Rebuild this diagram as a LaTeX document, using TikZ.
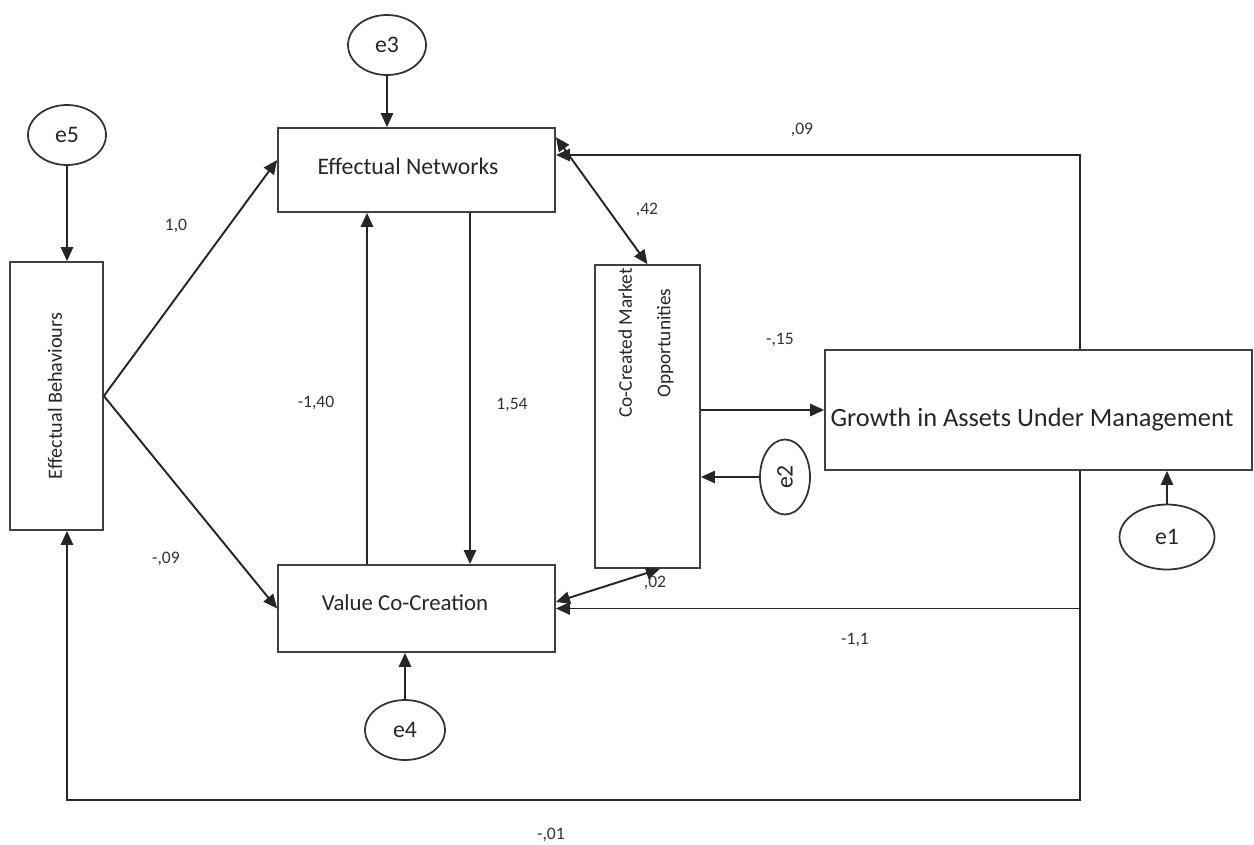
\documentclass[tikz,border=0pt]{standalone}
\usepackage{fontspec}
\setmainfont{Carlito}
\usetikzlibrary{arrows.meta,shapes.geometric,calc}
\begin{document}
\begin{tikzpicture}[x=0.02cm,y=-0.02cm,
  box/.style={draw=black!75,line width=1pt,rectangle,inner sep=0pt},
  ell/.style={draw=black!80,line width=1pt,ellipse,inner sep=0pt},
  txt/.style={font=\fontsize{13.5}{16}\selectfont,text=black!85,inner sep=0pt},
  rtxt/.style={font=\fontsize{11.5}{22}\selectfont,text=black!85,inner sep=0pt,rotate=90},
  lbl/.style={font=\fontsize{10}{12}\selectfont,text=black!80,inner sep=0pt},
  arr/.style={-{Triangle[length=8pt,width=7pt]},line width=1.1pt,draw=black!85},
  dbl/.style={{Triangle[length=8pt,width=7pt]}-{Triangle[length=8pt,width=7pt]},line width=1.1pt,draw=black!85}]
\useasboundingbox (0,0) rectangle (1254,845);

% construct boxes
\node[box,minimum width=5.54cm,minimum height=1.68cm] (nw) at (416.5,170) {};
\node[txt] (nwt) at (408,166) {Effectual Networks};
\node[box,minimum width=5.54cm,minimum height=1.74cm] (vc) at (416.5,608.5) {};
\node[txt,font=\fontsize{13}{16}\selectfont] (vct) at (405,603) {Value Co-Creation};
\node[box,minimum width=1.86cm,minimum height=5.36cm] (eb) at (56.5,396) {};
\node[rtxt] (ebt) at (55,396) {Effectual Behaviours};
\node[box,minimum width=2.1cm,minimum height=6.06cm] (cc) at (647.5,416.5) {};
\node[rtxt,font=\fontsize{11}{22}\selectfont,align=center] (cct) at (646,343) {Co-Created Market\\Opportunities};
\node[box,minimum width=8.54cm,minimum height=2.4cm] (gr) at (1038.5,410) {};
\node[txt,font=\fontsize{15}{18}\selectfont] (grt) at (1032,420) {Growth in Assets Under Management};

% error terms
\node[ell,minimum width=1.56cm,minimum height=1.2cm] (e3) at (387,45) {};
\node[txt] (e3t) at (387,45) {e3};
\node[ell,minimum width=1.56cm,minimum height=1.2cm] (e5) at (67,135) {};
\node[txt] (e5t) at (67,135) {e5};
\node[ell,minimum width=1.6cm,minimum height=1.2cm] (e4) at (405,730) {};
\node[txt] (e4t) at (405,730) {e4};
\node[ell,minimum width=1.0cm,minimum height=1.5cm] (e2) at (785,477) {};
\node[txt,rotate=90] (e2t) at (785,477) {e2};
\node[ell,minimum width=1.9cm,minimum height=1.3cm] (e1) at (1167,537) {};
\node[txt] (e1t) at (1167,537) {e1};

% helper positions
\coordinate (xl) at (367,0);
\coordinate (xr) at (470,0);
\coordinate (xg) at (1080,0);
\coordinate (xb) at (67,800);

% error arrows
\draw[arr] (e3.south) -- (e3.south |- nw.north);
\draw[arr] (e5.south) -- (e5.south |- eb.north);
\draw[arr] (e4.north) -- (e4.north |- vc.south);
\draw[arr] (e1.north) -- (e1.north |- gr.south);
\draw[arr] (e2.west) -- (e2.west -| cc.east);

% structural paths
\draw[arr] (eb.east) -- ([yshift=0.2cm]nw.west);
\draw[arr] (eb.east) -- (vc.west);
\draw[arr] (xl |- vc.north) -- (xl |- nw.south);
\draw[arr] (xr |- nw.south) -- (xr |- vc.north);
\draw[dbl] ([yshift=-0.2cm]nw.north east) -- (cc.north);
\draw[dbl] ([yshift=0.13cm]vc.east) -- ([xshift=0.25cm]cc.south);
\draw[arr] (gr.west -| cc.east) -- (gr.west);
\draw[arr] (xg |- gr.north) |- ([yshift=0.3cm]nw.east);
\draw[arr] (xg |- gr.south) |- (vc.east);
\draw[arr] (xg |- gr.south) |- (xb) -- (xb |- eb.south);

% coefficients
\node[lbl] (l10) at (176,226) {1,0};
\node[lbl] (l09a) at (166,559) {-,09};
\node[lbl] (l140) at (316,403) {-1,40};
\node[lbl] (l154) at (512,405) {1,54};
\node[lbl] (l42) at (647,210) {,42};
\node[lbl] (l02) at (655,583) {,02};
\node[lbl] (l15) at (780,340) {-,15};
\node[lbl] (l09b) at (802,130) {,09};
\node[lbl] (l11) at (855,640) {-1,1};
\node[lbl] (l01) at (551,835) {-,01};
\end{tikzpicture}
\end{document}
